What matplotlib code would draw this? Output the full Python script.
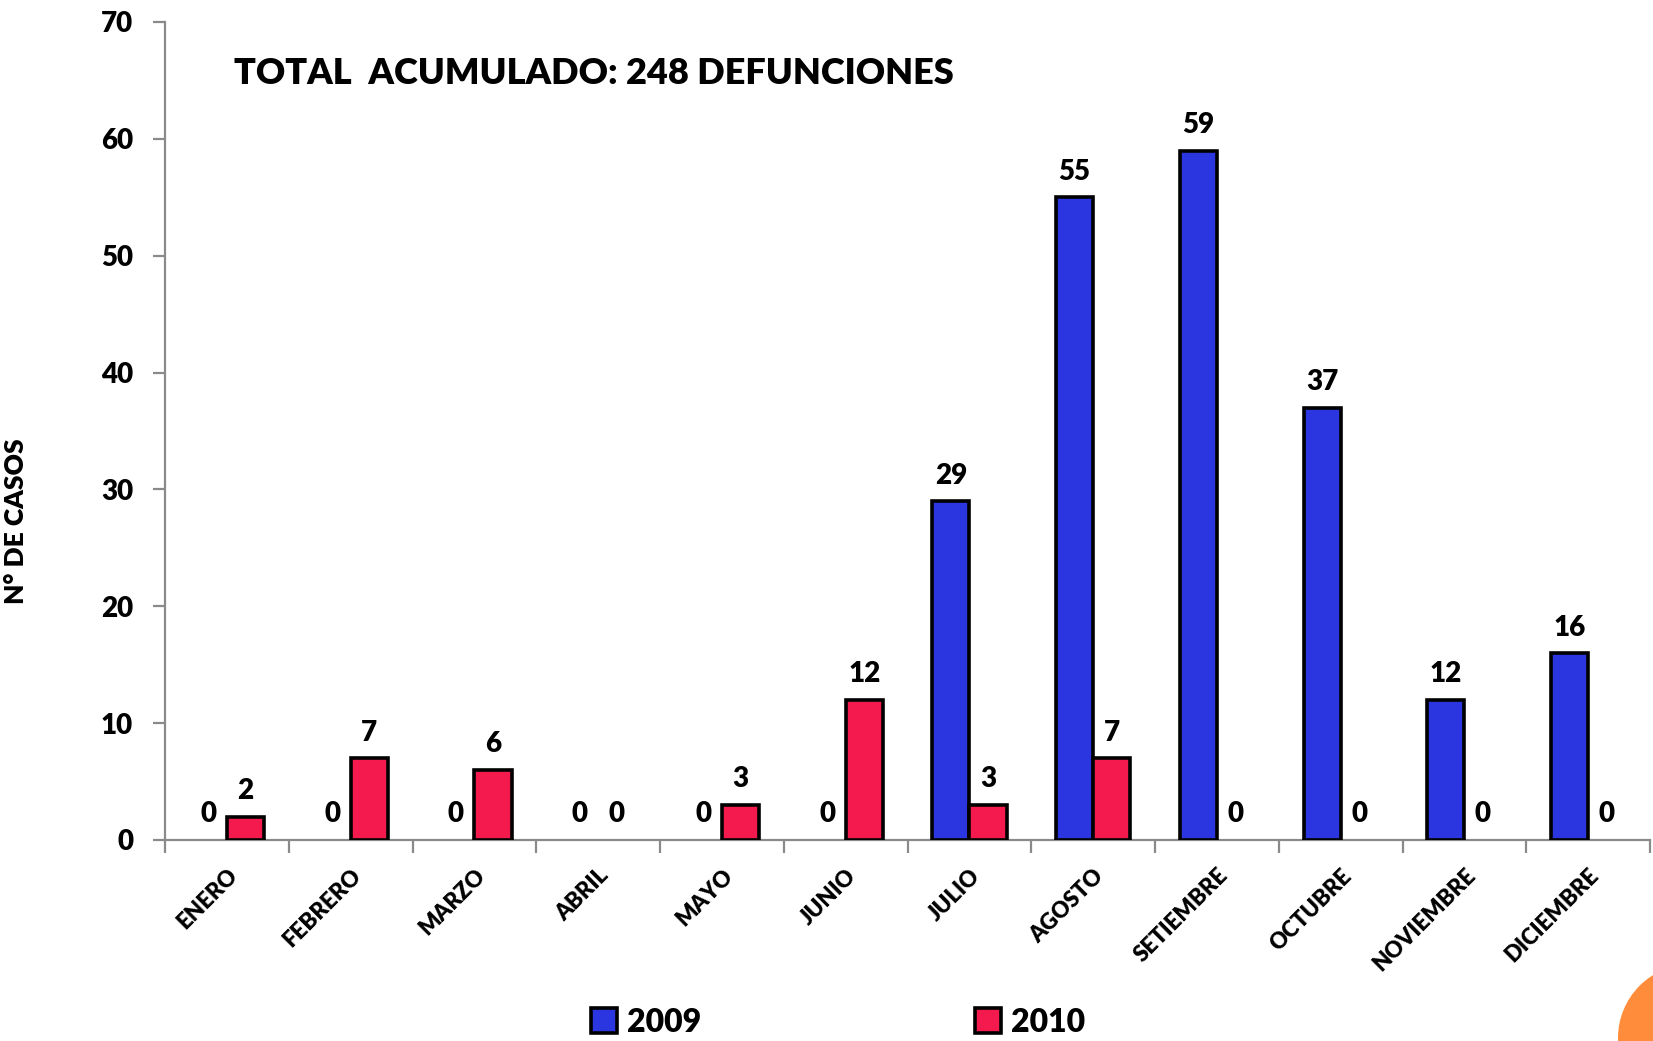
import numpy as np
import matplotlib.pyplot as plt
import matplotlib.patches as mpatches

plt.rcParams["font.family"] = ["Lato", "DejaVu Sans"]
plt.rcParams["font.weight"] = "heavy"

# ── data ────────────────────────────────────────────────────────────────────
months = ["ENERO", "FEBRERO", "MARZO", "ABRIL", "MAYO", "JUNIO", "JULIO",
          "AGOSTO", "SETIEMBRE", "OCTUBRE", "NOVIEMBRE", "DICIEMBRE"]
deaths_2009 = [0, 0, 0, 0, 0, 0, 29, 55, 59, 37, 12, 16]
deaths_2010 = [2, 7, 6, 0, 3, 12, 3, 7, 0, 0, 0, 0]
series_names = ["2009", "2010"]
title = "TOTAL  ACUMULADO: 248 DEFUNCIONES"

colors = {"2009": "#2b35e0", "2010": "#f41a4e"}
axis_grey = "#8a8a8a"
W = "heavy"

fig = plt.figure(figsize=(16.53, 10.41), dpi=100, facecolor="white")
ax = fig.add_axes([165 / 1653, 1 - 840 / 1041, 1485 / 1653, 818 / 1041])

x = np.arange(len(months))
width = 0.3
for i, (name, vals) in enumerate(zip(series_names, [deaths_2009, deaths_2010])):
    pos = x + (i - 0.5) * width
    # zero-height bars leave no outline on the axis
    lws = [2.6 if v > 0 else 0 for v in vals]
    ax.bar(pos, vals, width, color=colors[name], edgecolor="black",
           linewidth=lws, zorder=3, label=name)
    for px, v in zip(pos, vals):
        ax.annotate(str(v), (px, v), xytext=(0, 9), textcoords="offset points",
                    ha="center", va="bottom", fontsize=20, fontweight=W)

ax.set_xlim(-0.5, len(months) - 0.5)
ax.set_ylim(0, 70)
ax.set_yticks(range(0, 71, 10))
ax.tick_params(axis="y", labelsize=20, length=9, width=1.6, color=axis_grey,
               pad=14)
ax.set_xticks(x)
ax.set_xticklabels(months, rotation=45, ha="right", rotation_mode="anchor",
                   fontsize=16, fontweight=W)
ax.tick_params(axis="x", length=0, pad=18)
ax.set_xticks(np.arange(-0.5, len(months), 1), minor=True)
ax.tick_params(axis="x", which="minor", length=9, width=1.6, color=axis_grey)
for lbl in ax.get_yticklabels():
    lbl.set_fontweight(W)

for s in ["top", "right"]:
    ax.spines[s].set_visible(False)
for s in ["left", "bottom"]:
    ax.spines[s].set_color(axis_grey)
    ax.spines[s].set_linewidth(1.6)

ax.set_ylabel("N° DE CASOS", fontsize=19, fontweight=W)
ax.yaxis.set_label_coords(-0.092, 0.39)

fig.text(234 / 1653, 1 - 74 / 1041, title, fontsize=26, fontweight=W,
         va="center", ha="left")

handles = [mpatches.Patch(facecolor=colors[n], edgecolor="black",
                          linewidth=2.6, label=n) for n in series_names]
fig.legend(handles=handles, loc="center", bbox_to_anchor=(0.507, 0.018),
           ncol=2, frameon=False, prop={"size": 23, "weight": W},
           handlelength=0.8, handleheight=0.8, handletextpad=0.3,
           columnspacing=8.6, borderpad=0)

# orange decoration circle in the lower right corner
fig.patches.append(mpatches.Ellipse((1692 / 1653, 1 - 1038 / 1041),
                                    2 * 74 / 1653, 2 * 74 / 1041,
                                    transform=fig.transFigure,
                                    facecolor="#ff8c3a", edgecolor="none"))

fig.savefig("out.png", dpi=100, facecolor="white")
